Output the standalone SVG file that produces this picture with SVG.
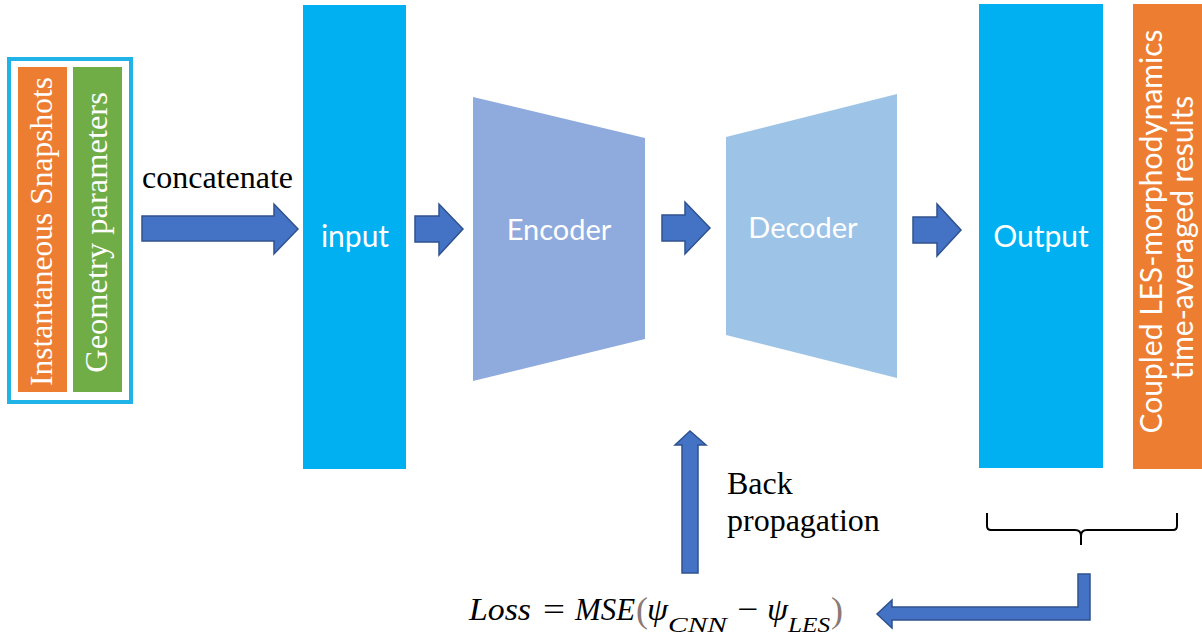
<svg xmlns="http://www.w3.org/2000/svg" width="1202" height="638" viewBox="0 0 1202 638">
  <style>
    .serif { font-family: "Liberation Serif", "Times New Roman", serif; }
    .sans { font-family: Lato, "Open Sans", "Liberation Sans", sans-serif; }
    .arrow { fill: #4472c4; stroke: #2f528f; stroke-width: 1.5; stroke-linejoin: miter; }
    .white { fill: #ffffff; }
    .label { font-size: 32px; fill: #000000; }
    .math { font-family: "Liberation Serif", "DejaVu Serif", serif; font-style: italic; fill: #000000; font-size: 32px; }
    .sub { font-size: 21px; }
    .up { font-style: normal; }
    .paren { fill: #8a7a74; font-style: normal; font-size: 36px; }
  </style>

  <rect width="1202" height="638" fill="#ffffff"/>

  <!-- Input bundle: snapshots + geometry parameters -->
  <g id="input-bundle">
    <rect x="9" y="59" width="122" height="343" fill="none" stroke="#1fb3e8" stroke-width="4"/>
    <rect x="18" y="67" width="49" height="325" fill="#ed7d31"/>
    <rect x="73" y="67" width="49" height="325" fill="#70ad47"/>
    <text class="serif white" font-size="31.5" text-anchor="middle" transform="translate(52,231.5) rotate(-90)">Instantaneous Snapshots</text>
    <text class="serif white" font-size="32.5" text-anchor="middle" transform="translate(107,232.5) rotate(-90)">Geometry parameters</text>
  </g>

  <g id="input">
    <rect x="303" y="5" width="103" height="464" fill="#00b0f0"/>
    <text class="sans white" font-size="30" text-anchor="middle" x="355" y="247">input</text>
  </g>

  <g id="encoder">
    <polygon points="473,97 645,138 645,339 473,381" fill="#8faadc"/>
    <text class="sans white" font-size="29" text-anchor="middle" x="559" y="240">Encoder</text>
  </g>

  <g id="decoder">
    <polygon points="726,137 897,94 897,378 726,335" fill="#9dc3e6"/>
    <text class="sans white" font-size="29" text-anchor="middle" x="803" y="238">Decoder</text>
  </g>

  <g id="output">
    <rect x="979" y="4" width="124" height="464" fill="#00b0f0"/>
    <text class="sans white" font-size="30" text-anchor="middle" x="1041" y="247">Output</text>
  </g>

  <g id="reference-results">
    <rect x="1133" y="4" width="69" height="465" fill="#ed7d31"/>
    <text class="sans white" font-size="30" text-anchor="middle" transform="translate(1162,231.5) rotate(-90)">Coupled LES-morphodynamics</text>
    <text class="sans white" font-size="30" text-anchor="middle" transform="translate(1193,237.5) rotate(-90)">time-averaged results</text>
  </g>

  <!-- Loss = MSE(psi_CNN - psi_LES) -->
  <g id="loss">
    <text class="math" x="469" y="620" textLength="62" lengthAdjust="spacingAndGlyphs">Loss</text>
    <text class="math up" x="543" y="620" textLength="22" lengthAdjust="spacingAndGlyphs">=</text>
    <text class="math" x="575" y="620" textLength="60" lengthAdjust="spacingAndGlyphs">MSE</text>
    <text class="math paren" x="636" y="622">(</text>
    <text class="math" x="647" y="620" textLength="21" lengthAdjust="spacingAndGlyphs">ψ</text>
    <text class="math sub" x="668" y="632" textLength="59" lengthAdjust="spacingAndGlyphs">CNN</text>
    <text class="math up" x="737" y="620" textLength="21" lengthAdjust="spacingAndGlyphs">−</text>
    <text class="math" x="767" y="620" textLength="21" lengthAdjust="spacingAndGlyphs">ψ</text>
    <text class="math sub" x="788" y="632" textLength="42" lengthAdjust="spacingAndGlyphs">LES</text>
    <text class="math paren" x="831" y="622">)</text>
  </g>

  <!-- Connectors -->
  <g id="connectors">
    <text class="serif label" x="142" y="188">concatenate</text>
    <polygon class="arrow" points="142,216 274,216 274,204 298,229 274,254 274,241 142,241"/>

    <polygon class="arrow" points="415,216 439,216 439,204 463,229 439,255 439,242 415,242"/>
    <polygon class="arrow" points="662,215 685,215 685,202 710,228 685,254 685,241 662,241"/>
    <polygon class="arrow" points="913,217 937,217 937,204 961,230 937,256 937,243 913,243"/>

    <!-- back propagation -->
    <polygon class="arrow" points="682,573 682,445 675,445 690,431 706,445 698,445 698,573"/>
    <text class="serif label" x="727" y="494">Back</text>
    <text class="serif label" x="727" y="531">propagation</text>

    <!-- brace under output and reference -->
    <path d="M987,513 L987,526 Q987,530 991,530 L1075,530 Q1081,530 1081,536 L1081,545 M1081,536 Q1081,530 1087,530 L1173,530 Q1177,530 1177,526 L1177,513" fill="none" stroke="#000000" stroke-width="2"/>

    <!-- loss feedback arrow -->
    <polygon class="arrow" points="1090,574 1090,620 892,620 892,628 877,614 892,600 892,607 1078,607 1078,574"/>
  </g>
</svg>
